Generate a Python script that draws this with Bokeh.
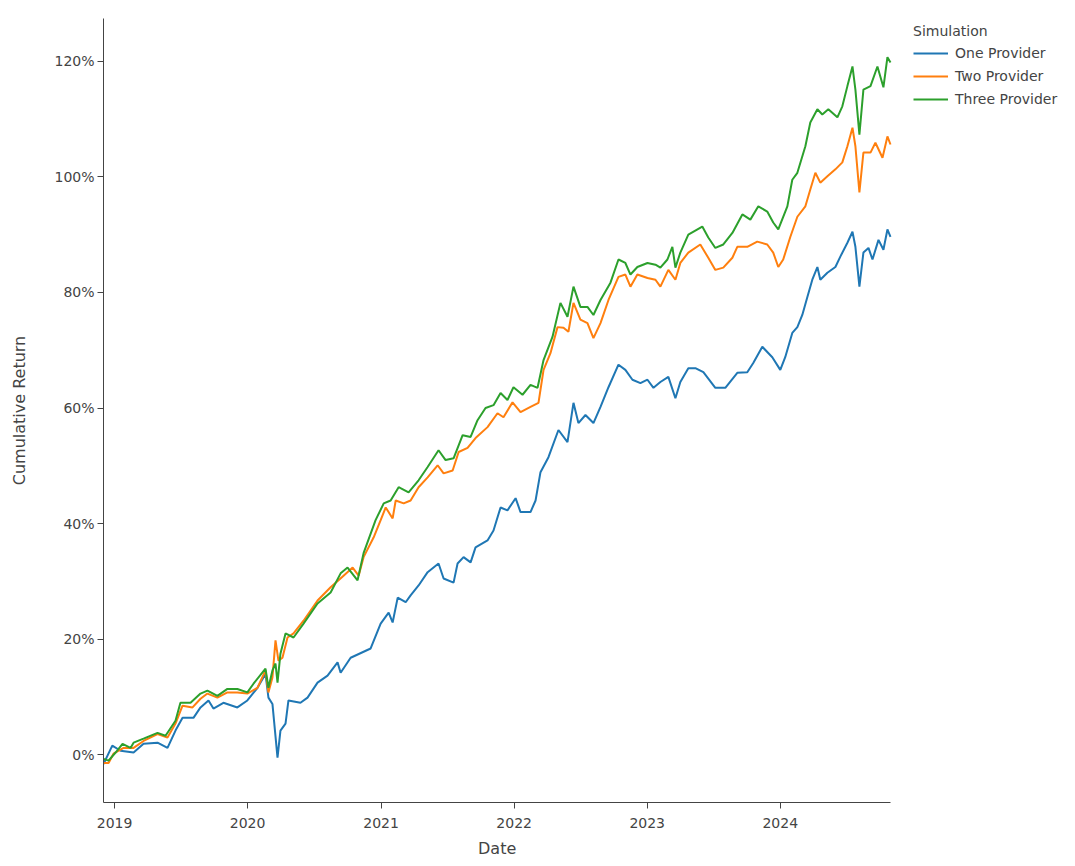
from datetime import datetime, timedelta
from bokeh.plotting import figure
from bokeh.models import (Range1d, FixedTicker, DatetimeTickFormatter, PrintfTickFormatter,
                          Legend, LegendItem, Title)
from bokeh.embed import file_html
from bokeh.resources import INLINE

# ---- data (dates as decimal years, values in %) ----
one_t = [2018.917, 2018.983, 2019.045, 2019.143, 2019.218, 2019.323, 2019.398, 2019.458, 2019.511, 2019.593,
         2019.646, 2019.706, 2019.743, 2019.818, 2019.923, 2019.998, 2020.074, 2020.134, 2020.156, 2020.186,
         2020.224, 2020.246, 2020.284, 2020.306, 2020.396, 2020.449, 2020.524, 2020.599, 2020.674, 2020.697,
         2020.772, 2020.922, 2020.997, 2021.057, 2021.087, 2021.125, 2021.185, 2021.222, 2021.282, 2021.350,
         2021.432, 2021.470, 2021.545, 2021.575, 2021.620, 2021.673, 2021.710, 2021.800, 2021.845, 2021.898,
         2021.950, 2022.011, 2022.048, 2022.123, 2022.161, 2022.198, 2022.258, 2022.333, 2022.401, 2022.446,
         2022.483, 2022.536, 2022.596, 2022.649, 2022.709, 2022.784, 2022.836, 2022.889, 2022.949, 2023.002,
         2023.047, 2023.099, 2023.159, 2023.212, 2023.249, 2023.309, 2023.362, 2023.422, 2023.512, 2023.587,
         2023.677, 2023.752, 2023.797, 2023.865, 2023.940, 2024.000, 2024.037, 2024.090, 2024.128, 2024.165,
         2024.203, 2024.240, 2024.278, 2024.300, 2024.353, 2024.413, 2024.450, 2024.503, 2024.541, 2024.563,
         2024.593, 2024.623, 2024.661, 2024.691, 2024.736, 2024.773, 2024.803, 2024.826]
one_v = [-1.6, 1.6, 0.7, 0.4, 1.9, 2.1, 1.2, 4.2, 6.4, 6.4,
         8.2, 9.4, 8.0, 9.0, 8.2, 9.4, 11.6, 14.0, 9.9, 8.8,
         -0.5, 4.2, 5.4, 9.4, 9.0, 9.9, 12.5, 13.7, 16.0, 14.2,
         16.8, 18.4, 22.7, 24.6, 22.9, 27.2, 26.4, 27.6, 29.3, 31.6,
         33.1, 30.5, 29.8, 33.1, 34.2, 33.3, 35.9, 37.1, 38.8, 42.8,
         42.3, 44.4, 42.0, 42.0, 44.0, 48.9, 51.5, 56.2, 54.1, 60.9,
         57.4, 58.8, 57.4, 60.2, 63.6, 67.5, 66.6, 64.9, 64.3, 64.9,
         63.5, 64.5, 65.4, 61.7, 64.5, 66.9, 66.9, 66.2, 63.5, 63.5,
         66.1, 66.2, 67.8, 70.6, 68.8, 66.6, 68.8, 73.0, 74.0, 76.1,
         79.2, 82.2, 84.4, 82.2, 83.4, 84.4, 86.2, 88.6, 90.5, 87.9,
         81.0, 86.9, 87.7, 85.7, 89.1, 87.4, 90.9, 89.6]

two_t = [2018.917, 2018.955, 2018.992, 2019.068, 2019.143, 2019.218, 2019.323, 2019.398, 2019.458, 2019.511,
         2019.586, 2019.646, 2019.698, 2019.773, 2019.848, 2019.923, 2019.998, 2020.074, 2020.134, 2020.156,
         2020.186, 2020.209, 2020.231, 2020.261, 2020.299, 2020.344, 2020.419, 2020.524, 2020.622, 2020.719,
         2020.787, 2020.832, 2020.869, 2020.944, 2020.997, 2021.035, 2021.087, 2021.110, 2021.170, 2021.222,
         2021.282, 2021.350, 2021.425, 2021.470, 2021.538, 2021.583, 2021.650, 2021.710, 2021.800, 2021.875,
         2021.920, 2021.988, 2022.048, 2022.123, 2022.183, 2022.221, 2022.273, 2022.326, 2022.371, 2022.408,
         2022.446, 2022.498, 2022.551, 2022.596, 2022.649, 2022.709, 2022.784, 2022.836, 2022.874, 2022.926,
         2023.002, 2023.062, 2023.099, 2023.159, 2023.212, 2023.249, 2023.309, 2023.399, 2023.459, 2023.512,
         2023.572, 2023.640, 2023.677, 2023.752, 2023.827, 2023.902, 2023.947, 2023.985, 2024.022, 2024.075,
         2024.128, 2024.188, 2024.225, 2024.263, 2024.300, 2024.353, 2024.413, 2024.465, 2024.503, 2024.541,
         2024.563, 2024.593, 2024.623, 2024.676, 2024.713, 2024.766, 2024.803, 2024.826]
two_v = [-1.4, -1.4, 0.2, 1.2, 1.2, 2.4, 3.6, 3.0, 5.4, 8.5,
         8.2, 9.7, 10.6, 9.9, 10.8, 10.8, 10.6, 11.6, 14.6, 10.8,
         13.4, 19.8, 16.3, 16.8, 20.3, 21.0, 23.2, 26.7, 29.0, 31.0,
         32.4, 31.0, 34.2, 37.6, 40.6, 42.8, 40.9, 44.0, 43.5, 44.0,
         46.3, 48.0, 50.1, 48.7, 49.2, 52.4, 53.1, 54.8, 56.7, 59.1,
         58.4, 61.0, 59.3, 60.2, 60.9, 66.6, 69.5, 74.0, 73.9, 73.2,
         78.2, 75.3, 74.7, 72.1, 74.7, 78.7, 82.7, 83.1, 81.0, 83.1,
         82.5, 82.2, 81.0, 83.9, 82.2, 85.1, 86.9, 88.3, 86.0, 83.9,
         84.3, 86.0, 87.9, 87.9, 88.8, 88.3, 86.9, 84.4, 85.7, 89.6,
         93.1, 94.9, 97.8, 100.7, 99.0, 100.1, 101.3, 102.5, 105.3, 108.5,
         105.3, 97.3, 104.2, 104.2, 105.9, 103.3, 107.0, 105.6]

three_t = [2018.917, 2018.955, 2019.008, 2019.060, 2019.120, 2019.143, 2019.218, 2019.323, 2019.383, 2019.458,
           2019.495, 2019.571, 2019.646, 2019.698, 2019.773, 2019.848, 2019.923, 2019.998, 2020.044, 2020.134,
           2020.156, 2020.186, 2020.209, 2020.224, 2020.246, 2020.284, 2020.344, 2020.419, 2020.524, 2020.622,
           2020.697, 2020.749, 2020.824, 2020.869, 2020.959, 2021.020, 2021.072, 2021.132, 2021.207, 2021.282,
           2021.350, 2021.432, 2021.485, 2021.545, 2021.613, 2021.673, 2021.725, 2021.785, 2021.845, 2021.898,
           2021.950, 2021.995, 2022.063, 2022.123, 2022.176, 2022.221, 2022.288, 2022.348, 2022.401, 2022.446,
           2022.498, 2022.551, 2022.596, 2022.649, 2022.724, 2022.784, 2022.836, 2022.874, 2022.926, 2023.002,
           2023.062, 2023.099, 2023.152, 2023.189, 2023.212, 2023.249, 2023.309, 2023.414, 2023.459, 2023.512,
           2023.572, 2023.640, 2023.715, 2023.775, 2023.835, 2023.902, 2023.947, 2023.985, 2024.053, 2024.090,
           2024.128, 2024.188, 2024.225, 2024.278, 2024.315, 2024.360, 2024.428, 2024.465, 2024.503, 2024.541,
           2024.563, 2024.593, 2024.623, 2024.676, 2024.728, 2024.773, 2024.803, 2024.826]
three_v = [-0.7, -1.0, 0.4, 1.9, 1.2, 2.1, 2.8, 3.8, 3.3, 5.9,
           9.0, 9.0, 10.6, 11.1, 10.2, 11.4, 11.4, 10.8, 12.3, 14.9,
           11.6, 14.6, 15.8, 12.5, 17.5, 21.0, 20.3, 22.7, 26.2, 28.1,
           31.4, 32.4, 30.2, 34.9, 40.6, 43.5, 44.0, 46.3, 45.4, 47.5,
           49.8, 52.7, 51.0, 51.3, 55.3, 55.0, 57.9, 60.0, 60.5, 62.6,
           61.4, 63.6, 62.3, 64.0, 63.5, 68.3, 72.3, 78.2, 75.8, 81.0,
           77.5, 77.5, 76.1, 78.7, 81.7, 85.7, 85.1, 83.1, 84.4, 85.1,
           84.8, 84.3, 85.7, 87.9, 84.3, 86.9, 90.0, 91.4, 89.5, 87.7,
           88.3, 90.3, 93.5, 92.6, 94.9, 94.0, 92.1, 90.9, 94.9, 99.5,
           100.7, 105.3, 109.4, 111.7, 110.8, 111.7, 110.3, 112.2, 115.7, 119.1,
           115.1, 107.3, 115.1, 115.7, 119.1, 115.5, 120.7, 119.8]

series_names = ["One Provider", "Two Provider", "Three Provider"]
series_colors = ["#1f77b4", "#ff7f0e", "#2ca02c"]
y_ticks = [0, 20, 40, 60, 80, 100, 120]
x_tick_years = [2019, 2020, 2021, 2022, 2023, 2024]


def yr2dt(y):
    yi = int(y)
    start = datetime(yi, 1, 1)
    ndays = (datetime(yi + 1, 1, 1) - start).days
    return start + timedelta(days=(y - yi) * ndays)


def to_ms(d):
    return (d - datetime(1970, 1, 1)).total_seconds() * 1000.0


FONT = "DejaVu Sans"
TXT = "#444444"

# layout: the data area is 787 px wide; the frame extends further right to hold the legend
W, H = 1070, 866
BL, BR, BT, BB = 103, 5, 18, 64
DATA_PX = 787.0
frame_px = W - BL - BR
t0, t1 = to_ms(yr2dt(one_t[0])), to_ms(yr2dt(one_t[-1]))
x_end = t0 + (t1 - t0) * frame_px / DATA_PX

p = figure(x_axis_type="datetime", output_backend="svg", toolbar_location=None,
           width=W, height=H,
           min_border_left=BL, min_border_top=BT, min_border_right=BR, min_border_bottom=BB,
           x_range=Range1d(t0, x_end),
           y_range=Range1d(-8.25, 127.4))

p.outline_line_color = None
p.xgrid.visible = False
p.ygrid.visible = False
p.background_fill_color = "white"
p.border_fill_color = "white"

renderers = []
for t, v, c in zip([one_t, two_t, three_t], [one_v, two_v, three_v], series_colors):
    r = p.line([yr2dt(x) for x in t], v, line_color=c, line_width=2)
    renderers.append(r)

for ax in (p.xaxis[0], p.yaxis[0]):
    ax.axis_line_color = TXT
    ax.axis_line_width = 1
    ax.major_tick_line_color = TXT
    ax.major_tick_out = 6
    ax.major_tick_in = 0
    ax.minor_tick_line_color = None
    ax.major_label_text_font = FONT
    ax.major_label_text_font_size = "14px"
    ax.major_label_text_color = TXT
    ax.axis_label_text_font = FONT
    ax.axis_label_text_font_size = "16px"
    ax.axis_label_text_font_style = "normal"
    ax.axis_label_text_color = TXT

p.yaxis.axis_label = "Cumulative Return"
p.xaxis.bounds = (t0, t1)
p.xaxis.ticker = FixedTicker(ticks=[to_ms(datetime(y, 1, 1)) for y in x_tick_years])
p.xaxis.formatter = DatetimeTickFormatter(years="%Y", months="%Y", days="%Y", hours="%Y",
                                          minutes="%Y", seconds="%Y", milliseconds="%Y")
p.yaxis.ticker = FixedTicker(ticks=y_ticks)
p.yaxis.formatter = PrintfTickFormatter(format="%d%%")
p.xaxis.major_label_standoff = 9
p.yaxis.major_label_standoff = 3
p.yaxis.axis_label_standoff = 22

# x-axis title centred under the data span (not under the legend area)
date_title = Title(text="Date", align="left", offset=DATA_PX / 2.0 - 19,
                   text_font=FONT, text_font_size="16px", text_font_style="normal",
                   text_color=TXT, standoff=13)
p.add_layout(date_title, "below")

legend = Legend(items=[LegendItem(label=n, renderers=[r]) for n, r in zip(series_names, renderers)],
                location=(810, 693), title="Simulation")
legend.title_text_font = FONT
legend.title_text_font_size = "14px"
legend.title_text_font_style = "normal"
legend.title_text_color = TXT
legend.title_standoff = 4
legend.label_text_font = FONT
legend.label_text_font_size = "14px"
legend.label_text_color = TXT
legend.glyph_width = 35
legend.glyph_height = 20
legend.label_height = 20
legend.label_standoff = 7
legend.spacing = 3
legend.padding = 0
legend.margin = 0
legend.border_line_color = None
legend.background_fill_alpha = 0
p.add_layout(legend)

open("out.html", "w").write(file_html(p, INLINE))
